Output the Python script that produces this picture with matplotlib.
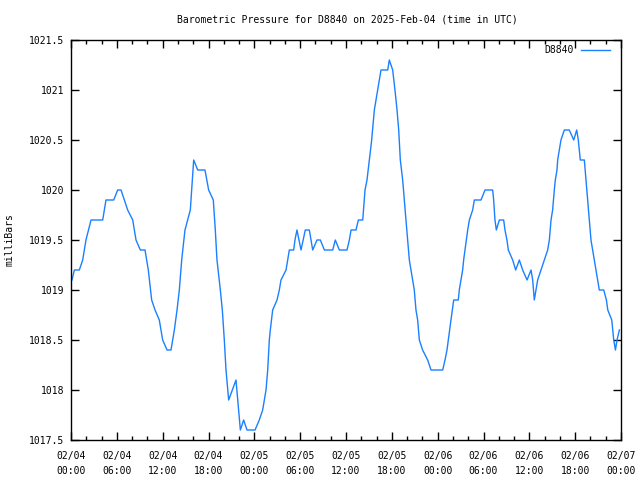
import matplotlib
matplotlib.use("Agg")
import matplotlib.pyplot as plt
from matplotlib.ticker import MultipleLocator, FuncFormatter

# hours since 2025-02-04 00:00 UTC
hours = [0.13, 0.44, 1.09, 1.53, 1.96, 2.62, 4.15, 4.58, 5.59, 6.11, 6.55, 7.42, 8.08, 8.51,
         9.08, 9.69, 10.12, 10.56, 11.0, 11.56, 12.0, 12.57, 13.09, 13.53, 13.88, 14.18, 14.49,
         14.92, 15.27, 15.62, 16.06, 16.59, 17.54, 18.02, 18.63, 18.89, 19.11, 19.55, 19.81,
         20.07, 20.29, 20.64, 21.6, 22.17, 22.6, 23.04, 24.09, 24.65, 25.09, 25.53, 25.75,
         25.96, 26.09, 26.4, 26.97, 27.27, 27.49, 28.15, 28.37, 28.58, 29.15, 29.32, 29.58,
         30.11, 30.67, 31.2, 31.64, 32.2, 32.64, 33.17, 34.26, 34.6, 35.13, 36.13, 36.44,
         36.66, 37.31, 37.62, 38.19, 38.49, 38.75, 39.05, 39.36, 39.71, 40.15, 40.58, 41.11,
         41.46, 41.67, 42.11, 42.41, 42.68, 42.9, 43.11, 43.42, 43.63, 43.85, 44.07, 44.29,
         44.51, 44.73, 44.94, 45.16, 45.38, 45.6, 46.03, 46.69, 47.13, 48.66, 48.96, 49.22,
         49.39, 49.57, 49.74, 50.1, 50.7, 50.83, 51.05, 51.27, 51.4, 51.58, 51.75, 51.93,
         52.15, 52.58, 52.8, 53.67, 54.2, 55.2, 55.33, 55.5, 55.68, 56.07, 56.64, 56.81,
         57.07, 57.25, 57.82, 58.21, 58.69, 59.13, 59.7, 60.22, 60.44, 60.65, 60.87, 61.09,
         61.53, 61.96, 62.4, 62.62, 62.84, 63.05, 63.27, 63.4, 63.62, 63.71, 63.92, 64.14,
         64.58, 65.23, 65.81, 66.2, 66.41, 66.54, 66.67, 67.2, 67.42, 67.64, 67.85, 68.07,
         68.29, 68.51, 68.73, 68.95, 69.16, 69.74, 70.09, 70.27, 70.79, 71.05, 71.27, 71.48,
         71.79]
pressure = [1019.1, 1019.2, 1019.2, 1019.3, 1019.5, 1019.7, 1019.7, 1019.9, 1019.9, 1020.0,
            1020.0, 1019.8, 1019.7, 1019.5, 1019.4, 1019.4, 1019.2, 1018.9, 1018.8, 1018.7,
            1018.5, 1018.4, 1018.4, 1018.6, 1018.8, 1019.0, 1019.3, 1019.6, 1019.7, 1019.8,
            1020.3, 1020.2, 1020.2, 1020.0, 1019.9, 1019.6, 1019.3, 1019.0, 1018.8, 1018.5,
            1018.2, 1017.9, 1018.1, 1017.6, 1017.7, 1017.6, 1017.6, 1017.7, 1017.8, 1018.0,
            1018.2, 1018.5, 1018.6, 1018.8, 1018.9, 1019.0, 1019.1, 1019.2, 1019.3, 1019.4,
            1019.4, 1019.5, 1019.6, 1019.4, 1019.6, 1019.6, 1019.4, 1019.5, 1019.5, 1019.4,
            1019.4, 1019.5, 1019.4, 1019.4, 1019.5, 1019.6, 1019.6, 1019.7, 1019.7, 1020.0,
            1020.1, 1020.3, 1020.5, 1020.8, 1021.0, 1021.2, 1021.2, 1021.2, 1021.3, 1021.2,
            1021.0, 1020.8, 1020.6, 1020.3, 1020.1, 1019.9, 1019.7, 1019.5, 1019.3, 1019.2,
            1019.1, 1019.0, 1018.8, 1018.7, 1018.5, 1018.4, 1018.3, 1018.2, 1018.2, 1018.3,
            1018.4, 1018.5, 1018.6, 1018.7, 1018.9, 1018.9, 1019.0, 1019.1, 1019.2, 1019.3,
            1019.4, 1019.5, 1019.6, 1019.7, 1019.8, 1019.9, 1019.9, 1020.0, 1020.0, 1019.9,
            1019.7, 1019.6, 1019.7, 1019.7, 1019.6, 1019.5, 1019.4, 1019.3, 1019.2, 1019.3,
            1019.2, 1019.1, 1019.2, 1019.1, 1018.9, 1019.0, 1019.1, 1019.2, 1019.3, 1019.4,
            1019.5, 1019.7, 1019.8, 1020.0, 1020.1, 1020.2, 1020.3, 1020.4, 1020.5, 1020.6,
            1020.6, 1020.5, 1020.6, 1020.5, 1020.4, 1020.3, 1020.3, 1020.1, 1019.9, 1019.7,
            1019.5, 1019.4, 1019.3, 1019.2, 1019.1, 1019.0, 1019.0, 1018.9, 1018.8, 1018.7,
            1018.5, 1018.4, 1018.5, 1018.6]

xtick_hours = [0, 6, 12, 18, 24, 30, 36, 42, 48, 54, 60, 66, 72]
xtick_labels = ["02/04\n00:00", "02/04\n06:00", "02/04\n12:00", "02/04\n18:00",
                "02/05\n00:00", "02/05\n06:00", "02/05\n12:00", "02/05\n18:00",
                "02/06\n00:00", "02/06\n06:00", "02/06\n12:00", "02/06\n18:00",
                "02/07\n00:00"]

title = "Barometric Pressure for D8840 on 2025-Feb-04 (time in UTC)"
station = "D8840"

plt.rcParams['font.family'] = ['DejaVu Sans Mono']
plt.rcParams['font.size'] = 7

fig = plt.figure(figsize=(6.4, 4.8), dpi=100)
ax = fig.add_axes([71/640, 1 - 440/480, 550/640, 400/480])

ax.plot(hours, pressure, color='#1a80ff', lw=1.0, label=station)

ax.set_xlim(0, 72)
ax.set_ylim(1017.5, 1021.5)
ax.set_xticks(xtick_hours)
ax.set_xticklabels(xtick_labels, linespacing=1.55)
ax.xaxis.set_minor_locator(MultipleLocator(2))
ax.yaxis.set_major_locator(MultipleLocator(0.5))
ax.yaxis.set_major_formatter(FuncFormatter(lambda v, p: f"{v:g}"))

ax.tick_params(which='both', direction='in', top=True, right=True, color='black', width=1)
ax.tick_params(which='major', length=6, pad=5)
ax.tick_params(which='minor', length=3)
ax.tick_params(axis='y', which='minor', left=False, right=False)
ax.tick_params(axis='x', pad=8)

for s in ax.spines.values():
    s.set_linewidth(1)
    s.set_color('black')

ax.set_ylabel("milliBars", labelpad=10)
fig.text(347/640, 1 - 19/480, title, ha='center', va='center', fontsize=7)

leg = ax.legend(loc='upper right', frameon=False, handlelength=3.0, handletextpad=0.75,
                markerfirst=False, borderaxespad=0, borderpad=0, fontsize=7,
                bbox_to_anchor=(610/640, 1 - 45/480), bbox_transform=fig.transFigure)

fig.savefig("out.png", dpi=100)
